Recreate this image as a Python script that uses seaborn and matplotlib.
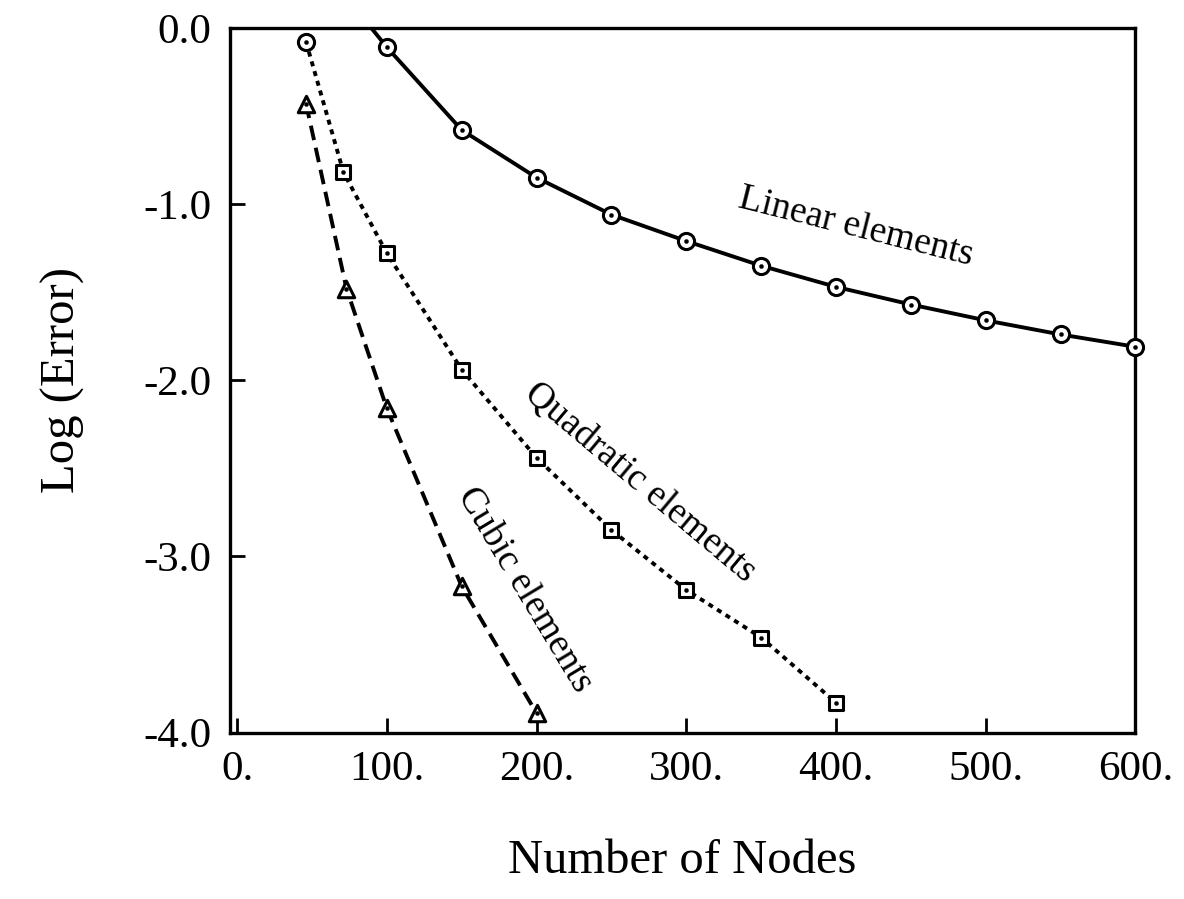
import matplotlib
matplotlib.use("Agg")
import matplotlib.pyplot as plt
import seaborn as sns
import pandas as pd

# ---------------------------------------- DATA ----------------------------------------
linear_nodes = [100, 150, 200, 250, 300, 350, 400, 450, 500, 550, 600]
linear_err = [-0.11, -0.58, -0.85, -1.06, -1.21, -1.35, -1.47, -1.57, -1.66, -1.74, -1.81]
# the solid curve enters from above the frame
linear_lead_node = [80]
linear_lead_err = [0.10]

quad_nodes = [46, 71, 100, 150, 200, 250, 300, 350, 400]
quad_err = [-0.08, -0.82, -1.28, -1.94, -2.44, -2.85, -3.19, -3.46, -3.83]
quad_marker = ["first", "rest", "rest", "rest", "rest", "rest", "rest", "rest", "rest"]

cubic_nodes = [46, 73, 100, 150, 200]
cubic_err = [-0.43, -1.48, -2.16, -3.17, -3.89]

x_ticks = [0, 100, 200, 300, 400, 500, 600]
x_ticklabels = ["0.", "100.", "200.", "300.", "400.", "500.", "600."]
y_ticks = [0, -1, -2, -3, -4]
y_ticklabels = ["0.0", "-1.0", "-2.0", "-3.0", "-4.0"]

linear = pd.DataFrame({"nodes": linear_lead_node + linear_nodes,
                       "err": linear_lead_err + linear_err})
linear_pts = pd.DataFrame({"nodes": linear_nodes, "err": linear_err})
quad = pd.DataFrame({"nodes": quad_nodes, "err": quad_err, "kind": quad_marker})
cubic = pd.DataFrame({"nodes": cubic_nodes, "err": cubic_err})

# ---------------------------------------- STYLE ----------------------------------------
sns.set_style("ticks")
plt.rcParams["font.family"] = ["Liberation Serif", "DejaVu Serif"]
plt.rcParams.update({"axes.linewidth": 2.4, "text.color": "black",
                     "axes.labelcolor": "black", "xtick.color": "black",
                     "ytick.color": "black", "axes.edgecolor": "black"})

fig = plt.figure(figsize=(11.84, 8.99), dpi=100)
ax = fig.add_axes([0.194, 0.185, 0.765, 0.784])

lw = 2.8
sns.lineplot(data=linear, x="nodes", y="err", ax=ax, color="black", lw=lw,
             sort=False, estimator=None)
sns.lineplot(data=quad, x="nodes", y="err", ax=ax, color="black", lw=lw,
             sort=False, estimator=None, dashes=False, linestyle=(0, (1.3, 1.3)))
sns.lineplot(data=cubic, x="nodes", y="err", ax=ax, color="black", lw=lw,
             sort=False, estimator=None, dashes=False, linestyle=(0, (3.8, 2.0)))

mk = dict(s=135, facecolor="white", edgecolor="black", linewidth=2.2, zorder=5, clip_on=False)
sns.scatterplot(data=linear_pts, x="nodes", y="err", ax=ax, marker="o", **mk)
sns.scatterplot(data=quad[quad["kind"] == "first"], x="nodes", y="err", ax=ax, marker="o", **mk)
sns.scatterplot(data=quad[quad["kind"] == "rest"], x="nodes", y="err", ax=ax, marker="s", **dict(mk, s=115))
sns.scatterplot(data=cubic, x="nodes", y="err", ax=ax, marker="^", **dict(mk, s=140))

# centre dots
dot = dict(s=9, color="black", edgecolor="black", zorder=6, clip_on=False)
for d in (linear_pts, quad, cubic):
    sns.scatterplot(data=d, x="nodes", y="err", ax=ax, marker="o", **dot)

ax.set_xlim(-5, 600)
ax.set_ylim(-4, 0)
ax.set_xticks(x_ticks)
ax.set_xticklabels(x_ticklabels)
ax.set_yticks(y_ticks)
ax.set_yticklabels(y_ticklabels)
ax.tick_params(direction="in", length=11, width=2.0, labelsize=31, color="black")
ax.tick_params(axis="x", pad=13)
ax.tick_params(axis="y", pad=13)
for s in ax.spines.values():
    s.set_visible(True)
    s.set_color("black")

ax.set_xlabel("Number of Nodes", fontsize=35, labelpad=36)
ax.set_ylabel("Log (Error)", fontsize=35, labelpad=42)

# curve labels
ax.text(413, -1.13, "Linear elements", fontsize=27, rotation=-14,
        ha="center", va="center", rotation_mode="anchor")
ax.text(269, -2.58, "Quadratic elements", fontsize=27, rotation=-40,
        ha="center", va="center", rotation_mode="anchor")
ax.text(192, -3.19, "Cubic elements", fontsize=27, rotation=-59,
        ha="center", va="center", rotation_mode="anchor")

if ax.get_legend():
    ax.get_legend().remove()

fig.savefig("out.png", dpi=100)
